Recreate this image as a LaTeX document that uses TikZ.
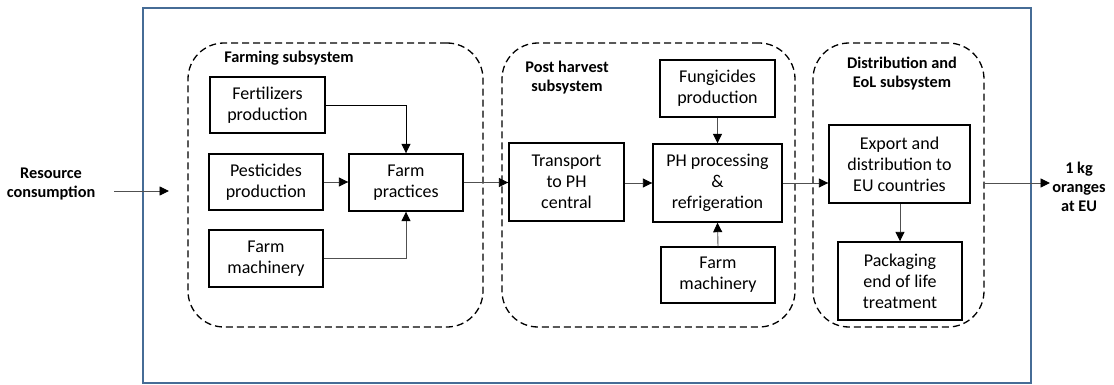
\documentclass[tikz,border=0pt]{standalone}
\usepackage{fontspec}
\setmainfont{Carlito}
\usetikzlibrary{arrows.meta}
\definecolor{framecol}{RGB}{70,108,150}
\definecolor{linkcol}{RGB}{80,80,80}
\tikzset{
  proc/.style={draw=black, line width=1.4pt, align=center, inner sep=0pt,
    font=\fontsize{18}{21}\selectfont},
  subsys/.style={draw=black, line width=1.3pt, dash pattern=on 7pt off 4pt,
    rounded corners=36pt, inner sep=0pt},
  title/.style={align=center, font=\fontsize{16.3}{19}\selectfont\bfseries},
  link/.style={draw=linkcol, line width=0.9pt,
    -{Triangle[length=9.5pt,width=9pt,color=black]}},
}
\begin{document}
\begin{tikzpicture}[x=1pt,y=-1pt]
\useasboundingbox (0,0) rectangle (1114,385);
% outer system boundary
\draw[framecol, line width=1.5pt] (143,8) rectangle (1031,383);

% subsystem outlines
\node[subsys, minimum width=295pt, minimum height=284pt] (fsub) at (335.5,185) {};
\node[subsys, minimum width=293pt, minimum height=284pt] (psub) at (648.5,185) {};
\node[subsys, minimum width=171pt, minimum height=284pt] (dsub) at (898.5,185) {};

\node[title] (ftitle) at (289,58) {Farming subsystem};
\node[title] (ptitle) at (567,77.5) {Post harvest\\subsystem};
\node[title] (dtitle) at (902,73.5) {Distribution and\\EoL subsystem};

% farming processes
\node[proc, minimum width=115pt, minimum height=56pt] (fert) at (267.5,105) {Fertilizers\\production};
\node[proc, minimum width=114pt, minimum height=56pt] (pest) at (266,182) {Pesticides\\production};
\node[proc, minimum width=114pt, minimum height=57pt] (mach) at (266,258.5) {Farm\\machinery};
\node[proc, minimum width=114pt, minimum height=57pt] (prac) at (406,182.5) {Farm\\practices};

% post harvest processes
\node[proc, minimum width=115pt, minimum height=78pt] (trans) at (566.5,182) {Transport\\to PH\\central};
\node[proc, minimum width=129pt, minimum height=78pt] (phproc) at (717.5,183) {PH processing\\\&\\refrigeration};
\node[proc, minimum width=115pt, minimum height=57pt] (fung) at (717.5,88.5) {Fungicides\\production};
\node[proc, minimum width=114pt, minimum height=56pt] (mach2) at (718,275) {Farm\\machinery};

% distribution and end of life
\node[proc, minimum width=141pt, minimum height=78pt] (export) at (899.5,164) {Export and\\distribution to\\EU countries};
\node[proc, minimum width=124pt, minimum height=78pt] (pack) at (900,281) {Packaging\\end of life\\treatment};

% system inputs and outputs
\node[title] (res) at (51,183.5) {Resource\\consumption};
\node[title] (oranges) at (1079,187) {1 kg\\oranges\\at EU};
\coordinate (rs) at (114,191);
\coordinate (re) at (169,191);
\coordinate (outend) at (1050,183);

% flows
\draw[link] (rs) -- (re);
\draw[link, draw=black] (fert.east) -| (prac.north);
\draw[link] (pest.east) -- (prac.west |- pest.east);
\draw[link] (mach.east) -| (prac.south);
\draw[link] (prac.east) -- (trans.west |- prac.east);
\draw[link] (trans.east |- phproc.west) -- (phproc.west);
\draw[link] (fung.south) -- (phproc.north);
\draw[link] (mach2.north) -- (phproc.south);
\draw[link] (phproc.east) -- (phproc.east -| export.west);
\draw[link] (export.south -| pack.north) -- (pack.north);
\draw[link] (dsub.east |- outend) -- (outend);
\end{tikzpicture}
\end{document}
